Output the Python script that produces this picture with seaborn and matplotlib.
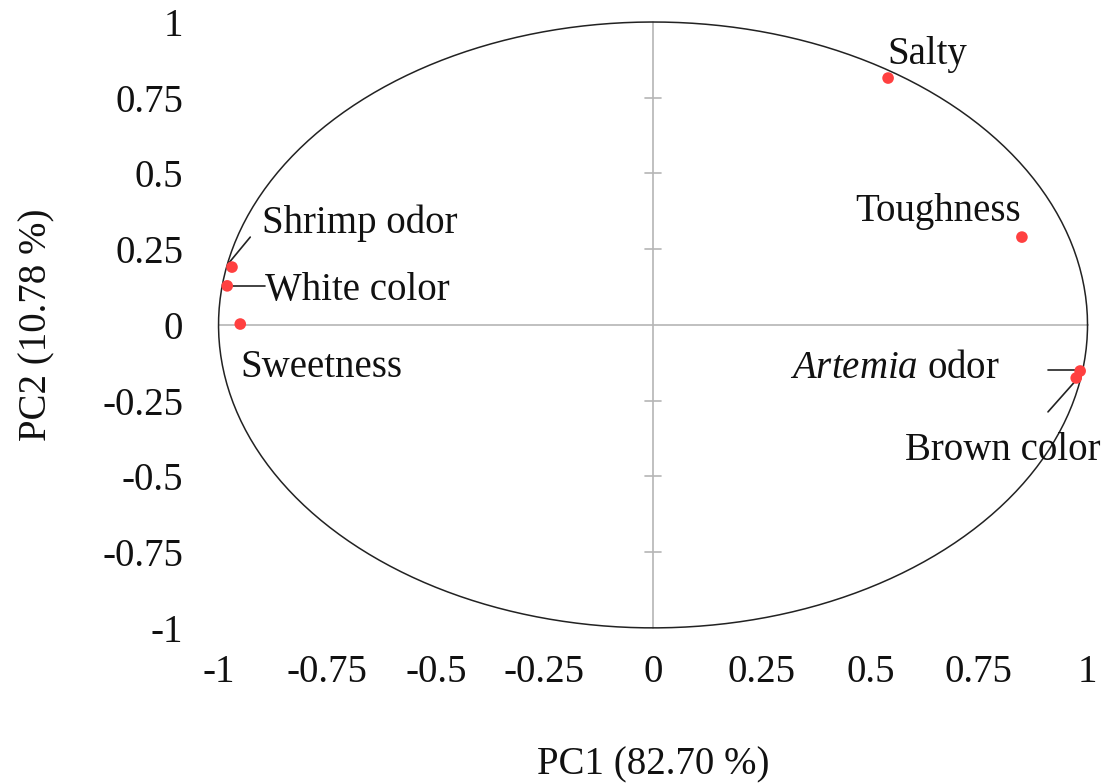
import numpy as np
import pandas as pd
import matplotlib
matplotlib.use("Agg")
import matplotlib.pyplot as plt
import seaborn as sns

# ---- data ----
attributes = ["Salty", "Toughness", "Shrimp odor", "White color", "Sweetness",
              "Artemia odor", "Brown color"]
pc1 = [0.541, 0.849, -0.969, -0.980, -0.950, 0.983, 0.974]
pc2 = [0.815, 0.290, 0.191, 0.129, 0.003, -0.152, -0.175]
tick_values = [-1, -0.75, -0.5, -0.25, 0, 0.25, 0.5, 0.75, 1]
tick_labels = ["-1", "-0.75", "-0.5", "-0.25", "0", "0.25", "0.5", "0.75", "1"]
xlabel = "PC1 (82.70 %)"
ylabel = "PC2 (10.78 %)"

df = pd.DataFrame({"attr": attributes, "PC1": pc1, "PC2": pc2})

sns.set_style("white")
plt.rcParams["font.family"] = ["Liberation Serif", "DejaVu Serif"]
plt.rcParams["mathtext.fontset"] = "custom"
plt.rcParams["mathtext.rm"] = "Liberation Serif"
plt.rcParams["mathtext.it"] = "Liberation Serif:italic"

FS = 28
fig = plt.figure(figsize=(11.18, 7.83), dpi=100)
ax = fig.add_axes([0.1838, 0.1865, 0.8006, 0.797])
ax.set_xlim(-1.03, 1.03)
ax.set_ylim(-1.03, 1.03)

# correlation circle
theta = np.linspace(0, 2 * np.pi, 400)
ax.plot(np.cos(theta), np.sin(theta), color="#222222", lw=1.1, zorder=2)

# centre cross
ax.plot([0, 0], [-1, 1], color="#b5b5b5", lw=1.2, zorder=1)
ax.plot([-1, 1], [0, 0], color="#b5b5b5", lw=1.2, zorder=1)
for t in tick_values:
    if t not in (-1, 0, 1):
        ax.plot([-0.019, 0.019], [t, t], color="#b5b5b5", lw=1.2, zorder=1)

sns.scatterplot(data=df, x="PC1", y="PC2", ax=ax, color="#ff4040",
                s=70, edgecolor="none", zorder=3, legend=False)

# labels
txt = dict(fontsize=FS, va="center", ha="left", color="#111111")
ax.text(0.539, 0.894, "Salty", **txt)
ax.text(0.465, 0.376, "Toughness", **txt)
ax.text(-0.900, 0.337, "Shrimp odor", **txt)
ax.text(-0.893, 0.115, "White color", **txt)
ax.text(-0.950, -0.139, "Sweetness", **txt)
ax.text(0.315, -0.145, r"$\it{Artemia}$ odor", **txt)
ax.text(0.580, -0.416, "Brown color", **txt)

# leader lines
lc = dict(color="#222222", lw=1.2, zorder=2)
ax.plot([-0.976, -0.927], [0.205, 0.290], **lc)
ax.plot([-0.980, -0.893], [0.129, 0.129], **lc)
ax.plot([0.909, 0.983], [-0.148, -0.148], **lc)
ax.plot([0.909, 0.974], [-0.287, -0.182], **lc)

ax.set_xticks(tick_values)
ax.set_xticklabels(tick_labels)
ax.set_yticks(tick_values)
ax.set_yticklabels(tick_labels)
ax.tick_params(axis="both", length=0, labelsize=FS, colors="#111111")
ax.tick_params(axis="x", pad=12)
ax.tick_params(axis="y", pad=16)
for s in ax.spines.values():
    s.set_visible(False)
ax.set_xlabel(xlabel, fontsize=FS, labelpad=40, color="#111111")
ax.set_ylabel(ylabel, fontsize=FS, labelpad=34, color="#111111")

fig.savefig("out.png", dpi=100)
